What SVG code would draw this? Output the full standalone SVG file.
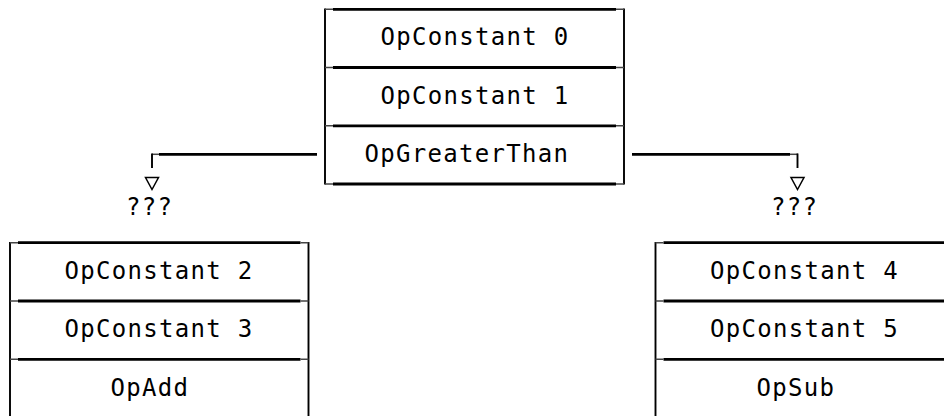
<svg xmlns="http://www.w3.org/2000/svg" width="944" height="416" viewBox="0 0 944 416">
<style>
  .bg { fill: #ffffff; }
  .hv { stroke: #000; stroke-width: 2.8; fill: none; }
  .vt { stroke: #000; stroke-width: 1.9; fill: none; }
  .stub { stroke: #444; stroke-width: 1.5; fill: none; }
  .lbl { font-family: "DejaVu Sans Mono", "Liberation Mono", monospace; font-size: 24px; letter-spacing: 1.3px; fill: #000; }
  .tri { fill: #fff; stroke: #000; stroke-width: 1.5; stroke-linejoin: miter; }
</style>
<rect class="bg" x="0" y="0" width="944" height="416"/>

<g id="connectors">
  <path class="hv" d="M159,154.3 H317"/>
  <path class="stub" d="M152,154.3 H159"/>
  <path class="vt" d="M152,153.5 V168"/>
  <polygon class="tri" points="145.5,177.5 158.5,177.5 152,189.5"/>
  <path class="hv" d="M632,154.3 H790"/>
  <path class="stub" d="M790,154.3 H798"/>
  <path class="vt" d="M797.5,153.5 V168"/>
  <polygon class="tri" points="791,177.5 804,177.5 797.5,189.5"/>
  <text class="lbl" x="126" y="215">???</text>
  <text class="lbl" x="771" y="215">???</text>
</g>

<g id="node-top">
  <path class="vt" d="M325,8.5 V184.5 M624,8.5 V184.5"/>
  <path class="hv" d="M333,9.3 H616 M333,67.5 H616 M333,125.8 H616 M333,184 H616"/>
  <path class="stub" d="M325,9.3 H333 M616,9.3 H624 M325,67.5 H333 M616,67.5 H624 M325,125.8 H333 M616,125.8 H624 M325,184 H333 M616,184 H624"/>
  <text class="lbl" x="380.5" y="45">OpConstant 0</text>
  <text class="lbl" x="380.5" y="103.5">OpConstant 1</text>
  <text class="lbl" x="364.5" y="162">OpGreaterThan</text>
</g>

<g id="node-left">
  <path class="vt" d="M10,242 V416 M308.5,242 V416"/>
  <path class="hv" d="M18,242.7 H300.5 M18,301 H300.5 M18,359.3 H300.5"/>
  <path class="stub" d="M10,242.7 H18 M300.5,242.7 H308.5 M10,301 H18 M300.5,301 H308.5 M10,359.3 H18 M300.5,359.3 H308.5"/>
  <text class="lbl" x="64.5" y="278.5">OpConstant 2</text>
  <text class="lbl" x="64.5" y="337">OpConstant 3</text>
  <text class="lbl" x="110.5" y="395.5">OpAdd</text>
</g>

<g id="node-right">
  <path class="vt" d="M655.5,242 V416"/>
  <path class="hv" d="M663.5,242.7 H944 M663.5,301 H944 M663.5,359.3 H944"/>
  <path class="stub" d="M655.5,242.7 H663.5 M655.5,301 H663.5 M655.5,359.3 H663.5"/>
  <text class="lbl" x="710" y="278.5">OpConstant 4</text>
  <text class="lbl" x="710" y="337">OpConstant 5</text>
  <text class="lbl" x="756.5" y="395.5">OpSub</text>
</g>
</svg>
